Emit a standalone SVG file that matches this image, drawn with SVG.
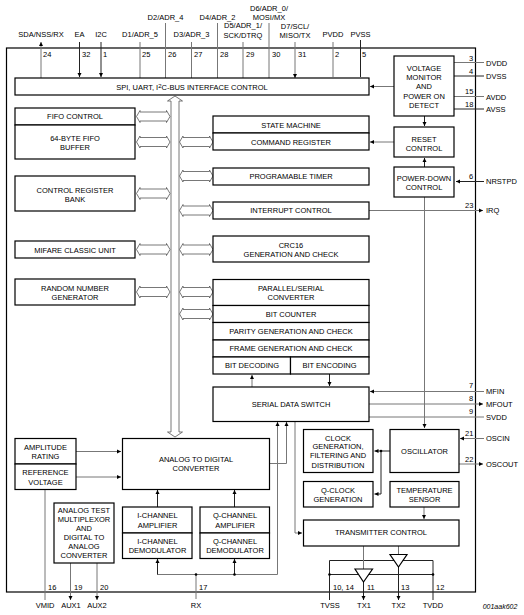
<svg xmlns="http://www.w3.org/2000/svg" width="524" height="615" viewBox="0 0 524 615">
<style>
text{font-family:"Liberation Sans",Arial,sans-serif;font-size:7.500px;fill:#000}
.c{text-anchor:middle}
.b{fill:#fff;stroke:#000;stroke-width:1.2}
.l{fill:none;stroke:#222;stroke-width:1}
.g{fill:none;stroke:#777;stroke-width:1}
.h{fill:#fff;stroke:#555;stroke-width:.8}
.d{fill:#000}
</style>
<defs>
<marker id="a" markerWidth="5" markerHeight="5" refX="4" refY="2.5" orient="auto-start-reverse" markerUnits="userSpaceOnUse"><path d="M0 .5L4 2.500L0 4.500Z" fill="#000"/></marker>
<polygon id="bi" class="h" points="0,0 3.500,-6 3.500,-4.500 30,-4.500 30,-6 33.500,0 30,6 30,4.500 3.500,4.500 3.500,6"/>
</defs>
<rect x="6.500" y="48" width="469" height="544" fill="#fff" stroke="#000" stroke-width="1.2"/>

<g id="connectors">
<path class="g" d="M41 42V78M140 42V78M191.500 42V78M243 42V78M165.500 23V78M217.500 23V78M269 23V78M295 42V78" marker-start="url(#a)" marker-end="url(#a)"/>
<path class="l" d="M79.500 42V77" marker-end="url(#a)"/>
<path class="l" d="M101 42V77" marker-end="url(#a)"/>
<path class="g" d="M333 42V77"/>
<path class="l" d="M360.500 40V77"/>
<path class="g" d="M454 62.500H484M454 96.500H484"/>
<path class="l" d="M454 76H484M454 109H484"/>
<path class="g" d="M394 86.500H370" marker-end="url(#a)"/>
<path class="g" d="M394 142H370" marker-end="url(#a)"/>
<path class="l" d="M424.500 116V126" marker-end="url(#a)"/>
<path class="l" d="M424.500 167V158" marker-end="url(#a)"/>
<path class="l" d="M484 181.500H456" marker-end="url(#a)"/>
<path class="g" d="M369 210.500H483" marker-end="url(#a)"/>
<path class="g" d="M424.500 197V428" marker-end="url(#a)"/>
<path class="g" d="M484 391.500H370" marker-end="url(#a)"/>
<path class="g" d="M369 404H483" marker-end="url(#a)"/>
<path class="g" d="M369 417H484"/>
<path class="g" d="M252 387V375" marker-end="url(#a)"/>
<path class="l" d="M329.500 374V386" marker-end="url(#a)"/>
<path class="g" d="M484 438.500H460" marker-end="url(#a)"/>
<path class="g" d="M459 464H483" marker-end="url(#a)"/>
<path class="g" d="M269 463.500H286.500V422" marker-end="url(#a)"/>
<path class="g" d="M157.500 560V574.500H277.500V422" marker-end="url(#a)"/>
<path class="l" d="M234.500 574.500V559" marker-end="url(#a)"/>
<path class="l" d="M157.500 574.500V559" marker-end="url(#a)"/>
<path class="g" d="M196 574.500V599"/>
<path class="g" d="M295 422V533H302" marker-end="url(#a)"/>
<path class="l" d="M157.500 507V490" marker-end="url(#a)"/>
<path class="l" d="M234.500 507V490" marker-end="url(#a)"/>
<path class="g" d="M76 451.500H121" marker-end="url(#a)"/>
<path class="g" d="M76 477H121" marker-end="url(#a)"/>
<path class="g" d="M45 489V600"/>
<path class="g" d="M70.500 563V600" marker-end="url(#a)"/>
<path class="g" d="M97 563V600" marker-end="url(#a)"/>
<path class="l" d="M390 451H374.500" marker-end="url(#a)"/>
<path class="l" d="M381 451V494H374.500" marker-end="url(#a)"/>
<path class="g" d="M424 507V519" marker-end="url(#a)"/>
<path class="l" d="M329.500 600V560.500H433V600M329.500 574.500H433"/>
<path class="g" d="M363.500 546V569"/>
<path class="l" d="M363.500 582V600" marker-end="url(#a)"/>
<path class="g" d="M398.500 546V554.500"/>
<path class="l" d="M398.500 567V600" marker-end="url(#a)"/>
<circle class="d" cx="234.500" cy="574.500" r="1.300"/><circle class="d" cx="196" cy="574.500" r="1.300"/><circle class="d" cx="381" cy="451" r="1.300"/><circle class="d" cx="329.500" cy="574.500" r="1.300"/><circle class="d" cx="433" cy="574.500" r="1.300"/>
<polygon class="b" points="355,569 372.500,569 363.500,582"/>
<polygon class="b" points="390,554.500 407,554.500 398.500,567"/>
<polygon class="h" points="175,96 182.500,101 179,101 179,432 182.500,432 175,437 167.500,432 171,432 171,101 167.500,101"/>
<use href="#bi" x="136.500" y="116.500"/><use href="#bi" x="136.500" y="142"/><use href="#bi" x="136.500" y="193.500"/><use href="#bi" x="136.500" y="249.500"/><use href="#bi" x="136.500" y="292"/>
<use href="#bi" x="179.500" y="142"/><use href="#bi" x="179.500" y="176"/><use href="#bi" x="179.500" y="210.500"/><use href="#bi" x="179.500" y="249.500"/><use href="#bi" x="179.500" y="292"/><use href="#bi" x="179.500" y="314"/>
</g>

<g id="interface"><rect class="b" x="15" y="78" width="354" height="17"/><text class="c" x="192" y="89.500">SPI, UART, I<tspan font-size="6" dy="-2">2</tspan><tspan dy="2">C-BUS INTERFACE CONTROL</tspan></text></g>
<g id="fifo"><rect class="b" x="15" y="108" width="120" height="17"/><rect class="b" x="15" y="125" width="120" height="34"/><text class="c" x="75" y="119">FIFO CONTROL</text><text class="c" x="75" y="140.500">64-BYTE FIFO</text><text class="c" x="75" y="150">BUFFER</text></g>
<g id="control-register"><rect class="b" x="15" y="176" width="120" height="35"/><text class="c" x="75" y="192.500">CONTROL REGISTER</text><text class="c" x="75" y="202">BANK</text></g>
<g id="mifare"><rect class="b" x="15" y="241" width="120" height="17"/><text class="c" x="75" y="252.500">MIFARE CLASSIC UNIT</text></g>
<g id="random"><rect class="b" x="15" y="279" width="120" height="26"/><text class="c" x="75" y="291">RANDOM NUMBER</text><text class="c" x="75" y="300">GENERATOR</text></g>
<g id="state"><rect class="b" x="213" y="116" width="156" height="17"/><rect class="b" x="213" y="133" width="156" height="17"/><text class="c" x="291" y="128">STATE MACHINE</text><text class="c" x="291" y="145">COMMAND REGISTER</text></g>
<g id="timer"><rect class="b" x="213" y="168" width="156" height="17"/><text class="c" x="291" y="179">PROGRAMABLE TIMER</text></g>
<g id="interrupt"><rect class="b" x="213" y="202" width="156" height="17"/><text class="c" x="291" y="213">INTERRUPT CONTROL</text></g>
<g id="crc"><rect class="b" x="213" y="236" width="156" height="26"/><text class="c" x="291" y="248">CRC16</text><text class="c" x="291" y="257">GENERATION AND CHECK</text></g>
<g id="parallel"><rect class="b" x="213" y="279.500" width="156" height="26"/><rect class="b" x="213" y="305.500" width="156" height="17"/><rect class="b" x="213" y="322.500" width="156" height="17.500"/><rect class="b" x="213" y="340" width="156" height="17"/><rect class="b" x="213" y="357" width="77.500" height="17"/><rect class="b" x="290.500" y="357" width="78.500" height="17"/>
<text class="c" x="291" y="291">PARALLEL/SERIAL</text><text class="c" x="291" y="300">CONVERTER</text><text class="c" x="291" y="316.500">BIT COUNTER</text><text class="c" x="291" y="333.500">PARITY GENERATION AND CHECK</text><text class="c" x="291" y="351">FRAME GENERATION AND CHECK</text><text class="c" x="252" y="368">BIT DECODING</text><text class="c" x="329.500" y="368">BIT ENCODING</text></g>
<g id="serial"><rect class="b" x="213" y="387" width="156" height="34.500"/><text class="c" x="291" y="407">SERIAL DATA SWITCH</text></g>
<g id="voltage"><rect class="b" x="394" y="56" width="60" height="60"/><text class="c" x="424" y="71">VOLTAGE</text><text class="c" x="424" y="80">MONITOR</text><text class="c" x="424" y="89">AND</text><text class="c" x="424" y="99">POWER ON</text><text class="c" x="424" y="108">DETECT</text></g>
<g id="reset"><rect class="b" x="394" y="127" width="60" height="30"/><text class="c" x="424" y="142">RESET</text><text class="c" x="424" y="151">CONTROL</text></g>
<g id="power"><rect class="b" x="394" y="167" width="60" height="30"/><text class="c" x="424" y="181">POWER-DOWN</text><text class="c" x="424" y="190">CONTROL</text></g>
<g id="adc"><rect class="b" x="122.500" y="438.500" width="147" height="51"/><text class="c" x="196" y="462">ANALOG TO DIGITAL</text><text class="c" x="196" y="471">CONVERTER</text></g>
<g id="amplitude"><rect class="b" x="15" y="438.500" width="61" height="25.500"/><rect class="b" x="15" y="464" width="61" height="25.500"/><text class="c" x="45.500" y="450">AMPLITUDE</text><text class="c" x="45.500" y="459">RATING</text><text class="c" x="45.500" y="475">REFERENCE</text><text class="c" x="45.500" y="485">VOLTAGE</text></g>
<g id="analog-test"><rect class="b" x="54" y="503" width="60" height="60"/><text class="c" x="84" y="512.500">ANALOG TEST</text><text class="c" x="84" y="521.500">MULTIPLEXOR</text><text class="c" x="84" y="530.500">AND</text><text class="c" x="84" y="539.500">DIGITAL TO</text><text class="c" x="84" y="549">ANALOG</text><text class="c" x="84" y="558">CONVERTER</text></g>
<g id="i-channel"><rect class="b" x="122.500" y="507" width="69.500" height="26"/><rect class="b" x="122.500" y="533" width="69.500" height="25.500"/><text class="c" x="157.500" y="518">I-CHANNEL</text><text class="c" x="157.500" y="528">AMPLIFIER</text><text class="c" x="157.500" y="544">I-CHANNEL</text><text class="c" x="157.500" y="553">DEMODULATOR</text></g>
<g id="q-channel"><rect class="b" x="200" y="507" width="69.500" height="26"/><rect class="b" x="200" y="533" width="69.500" height="25.500"/><text class="c" x="235" y="518">Q-CHANNEL</text><text class="c" x="235" y="528">AMPLIFIER</text><text class="c" x="235" y="544">Q-CHANNEL</text><text class="c" x="235" y="553">DEMODULATOR</text></g>
<g id="clock"><rect class="b" x="303.500" y="429.500" width="69.500" height="43"/><text class="c" x="338" y="440.500">CLOCK</text><text class="c" x="338" y="449">GENERATION,</text><text class="c" x="338" y="458">FILTERING AND</text><text class="c" x="338" y="467.500">DISTRIBUTION</text></g>
<g id="q-clock"><rect class="b" x="303.500" y="481.500" width="69.500" height="25.500"/><text class="c" x="338" y="492.500">Q-CLOCK</text><text class="c" x="338" y="502">GENERATION</text></g>
<g id="oscillator"><rect class="b" x="390" y="429.500" width="69" height="43"/><text class="c" x="424.500" y="454">OSCILLATOR</text></g>
<g id="temperature"><rect class="b" x="390" y="481.500" width="69" height="25.500"/><text class="c" x="424.500" y="492.500">TEMPERATURE</text><text class="c" x="424.500" y="502">SENSOR</text></g>
<g id="transmitter"><rect class="b" x="303.500" y="520" width="155.500" height="26"/><text class="c" x="381" y="535">TRANSMITTER CONTROL</text></g>

<g id="labels">
<text class="c" x="41" y="37">SDA/NSS/RX</text><text class="c" x="79.500" y="37">EA</text><text class="c" x="101" y="37">I2C</text><text class="c" x="140" y="37">D1/ADR_5</text><text class="c" x="165.500" y="20">D2/ADR_4</text><text class="c" x="191.500" y="37">D3/ADR_3</text><text class="c" x="217.500" y="20">D4/ADR_2</text><text class="c" x="243" y="28">D5/ADR_1/</text><text class="c" x="243" y="38">SCK/DTRQ</text><text class="c" x="269" y="11">D6/ADR_0/</text><text class="c" x="269" y="20">MOSI/MX</text><text class="c" x="295" y="29">D7/SCL/</text><text class="c" x="295" y="38">MISO/TX</text><text class="c" x="333" y="37">PVDD</text><text class="c" x="360.500" y="37">PVSS</text>
<text x="43" y="56.500">24</text><text x="82" y="56.500">32</text><text x="103" y="56.500">1</text><text x="142" y="56.500">25</text><text x="168" y="56.500">26</text><text x="194" y="56.500">27</text><text x="220" y="56.500">28</text><text x="246" y="56.500">29</text><text x="272" y="56.500">30</text><text x="298" y="56.500">31</text><text x="335" y="56.500">2</text><text x="362" y="56.500">5</text>
<text x="486" y="66">DVDD</text><text x="486" y="79">DVSS</text><text x="486" y="99.500">AVDD</text><text x="486" y="112">AVSS</text><text x="486" y="184">NRSTPD</text><text x="486" y="213">IRQ</text><text x="486" y="394">MFIN</text><text x="486" y="407">MFOUT</text><text x="486" y="420">SVDD</text><text x="486" y="441">OSCIN</text><text x="486" y="467">OSCOUT</text>
<text x="469" y="61">3</text><text x="469" y="74">4</text><text x="465" y="94">15</text><text x="465" y="107">18</text><text x="469" y="179">6</text><text x="465" y="208">23</text><text x="469" y="388">7</text><text x="469" y="401">8</text><text x="469" y="414">9</text><text x="465" y="436">21</text><text x="465" y="462">22</text>
<text class="c" x="45" y="608">VMID</text><text class="c" x="71" y="608">AUX1</text><text class="c" x="97" y="608">AUX2</text><text class="c" x="196" y="608">RX</text><text class="c" x="330" y="608">TVSS</text><text class="c" x="364" y="608">TX1</text><text class="c" x="398.500" y="608">TX2</text><text class="c" x="433" y="608">TVDD</text>
<text x="48" y="590">16</text><text x="74" y="590">19</text><text x="100" y="590">20</text><text x="199" y="590">17</text><text x="333" y="590">10, 14</text><text x="367" y="590">11</text><text x="401" y="590">13</text><text x="436" y="590">12</text>
<text class="c" x="500" y="609" font-style="italic" style="font-size:7px">001aak602</text>
</g>
</svg>
